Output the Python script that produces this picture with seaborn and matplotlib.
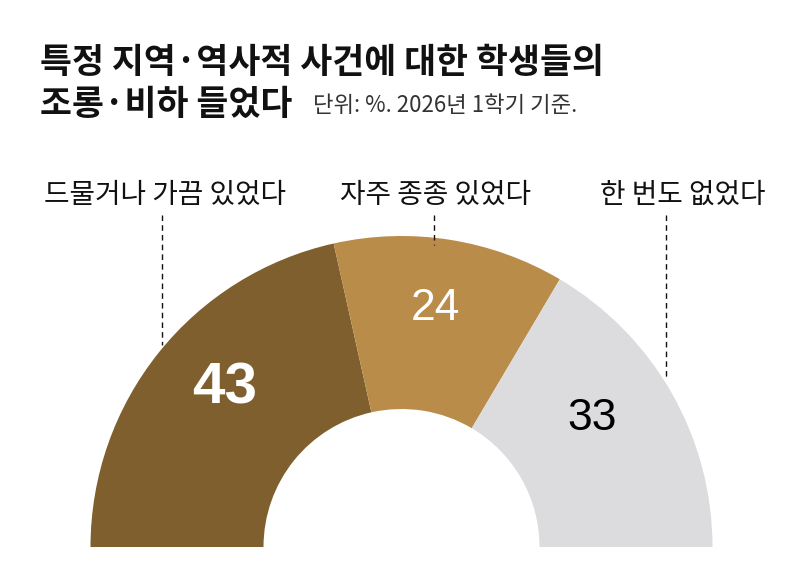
import matplotlib
matplotlib.use("Agg")
import matplotlib.pyplot as plt
import seaborn as sns

sns.set_theme(style="white")
plt.rcParams["font.family"] = ["Noto Sans CJK KR", "DejaVu Sans"]

# data
categories = ["드물거나 가끔 있었다", "자주 종종 있었다", "한 번도 없었다"]
values = [43, 24, 33]
colors = ["#7f5f2e", "#ba8c4a", "#dcdcde"]
value_colors = ["white", "white", "black"]

title_lines = ["특정 지역·역사적 사건에 대한 학생들의", "조롱·비하 들었다"]
subtitle = "단위: %. 2026년 1학기 기준."

W, H = 800, 583
fig = plt.figure(figsize=(W / 100, H / 100), dpi=100)
ax = fig.add_axes([0, 0, 1, 1])


def Y(y):
    # reference pixel row -> data y
    return H - y


cx, cy = 401.5, Y(547)
r_out, r_in = 311, 138

total = sum(values)
ax.pie(values + [total], colors=colors + ["none"], startangle=180,
       counterclock=False, center=(cx, cy), radius=r_out,
       wedgeprops=dict(width=r_out - r_in, linewidth=0))

ax.set_xlim(0, W)
ax.set_ylim(0, H)
ax.set_aspect("equal")
ax.axis("off")

num_font = ["Liberation Sans Narrow", "Liberation Sans", "DejaVu Sans"]

# values inside the arc
val_pos = [(225, 388), (435, 308), (592, 419)]
val_style = [dict(fontsize=42, fontweight="bold"), dict(fontsize=32), dict(fontsize=32)]
for v, (x, y), c, st in zip(values, val_pos, value_colors, val_style):
    ax.text(x, Y(y), str(v), color=c, ha="center", va="center",
            family=num_font, **st)

# category labels with dashed leaders
lab_pos = [165, 435, 683]
lead = [(162, 345), (434, 245), (666, 380)]
for lab, lx, (x, yb) in zip(categories, lab_pos, lead):
    ax.text(lx, Y(195), lab, ha="center", va="center", fontsize=20, color="#111111")
    ax.plot([x, x], [Y(215), Y(yb)], color="#111111", lw=1, ls=(0, (4, 3)))

# title
ax.text(40, Y(62), title_lines[0], ha="left", va="center", fontsize=25,
        fontweight="heavy", color="#111111")
ax.text(40, Y(104), title_lines[1], ha="left", va="center", fontsize=25,
        fontweight="heavy", color="#111111")
ax.text(313, Y(106), subtitle, ha="left", va="center", fontsize=16, color="#333333")

fig.savefig("out.png", dpi=100)
